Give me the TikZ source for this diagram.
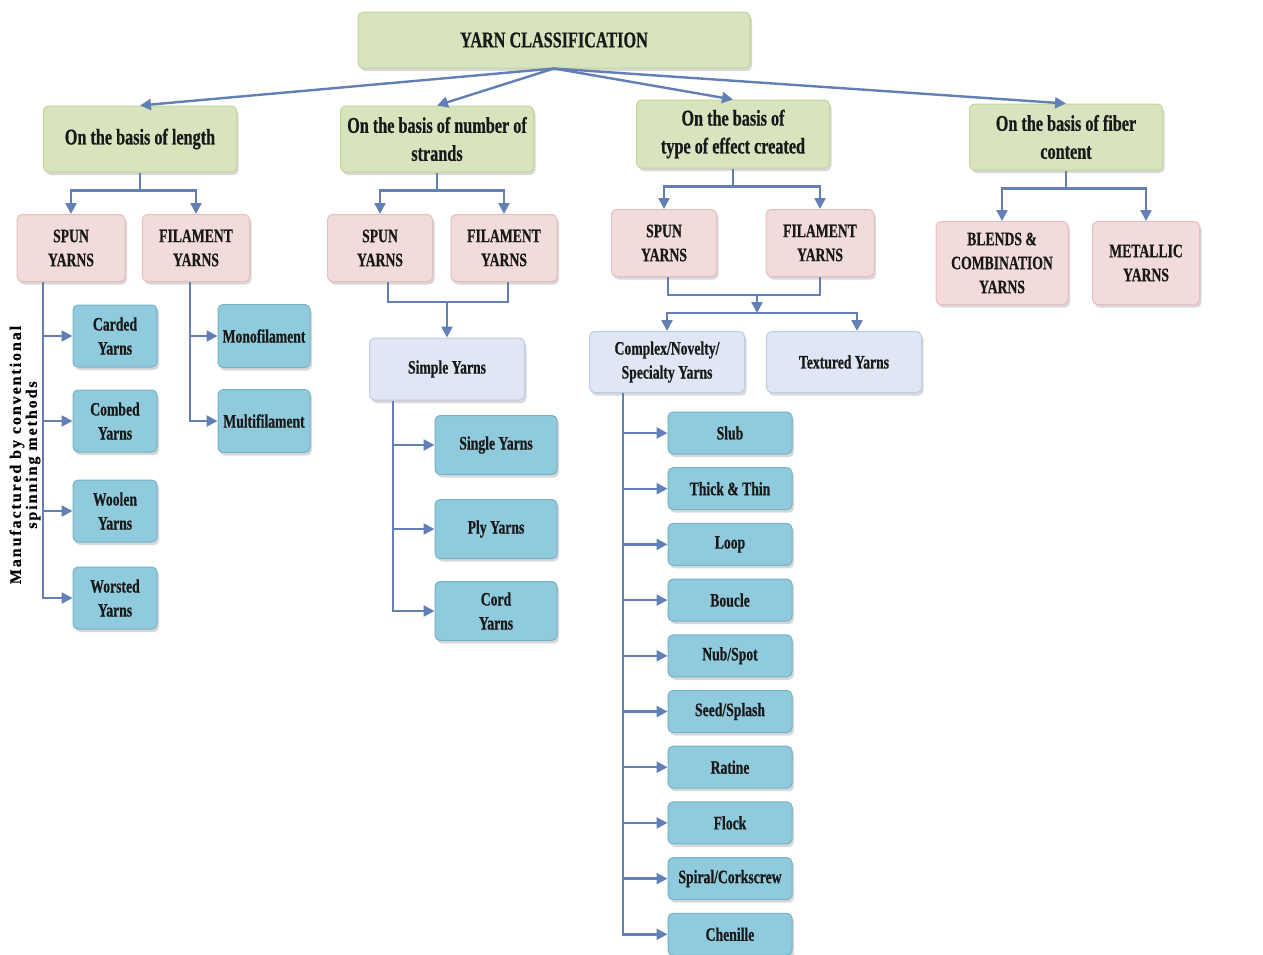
\documentclass[tikz,border=0pt]{standalone}
\usepackage{fontspec}
\setmainfont{Liberation Serif}[FakeStretch=0.72, BoldFeatures={FakeBold=0.6}]
\newfontfamily\sidefont{Liberation Serif}[LetterSpace=12, BoldFeatures={FakeBold=0.5}]
\usetikzlibrary{arrows.meta,shadows}
\definecolor{leafgreen}{RGB}{215,228,189}
\definecolor{leafedge}{RGB}{196,215,155}
\definecolor{rosefill}{RGB}{242,220,219}
\definecolor{roseedge}{RGB}{230,190,189}
\definecolor{lilacfill}{RGB}{222,231,243}
\definecolor{lilacedge}{RGB}{190,206,228}
\definecolor{tealfill}{RGB}{143,203,221}
\definecolor{tealedge}{RGB}{118,178,200}
\definecolor{linkblue}{RGB}{98,128,182}
\begin{document}
\begin{tikzpicture}[x=1pt,y=-1pt,
  box/.style={rounded corners=5pt, line width=1pt, align=center, inner sep=0pt,
    text=black!90, font=\bfseries\fontsize{19}{24}\selectfont,
    drop shadow={shadow xshift=2pt,shadow yshift=-3pt,opacity=.3}},
  headbox/.style={box, fill=leafgreen, draw=leafedge, minimum width=193pt,
    minimum height=66pt, font=\bfseries\fontsize{22.5}{28}\selectfont},
  kindbox/.style={box, fill=rosefill, draw=roseedge, minimum width=107pt, minimum height=67pt},
  groupbox/.style={box, fill=lilacfill, draw=lilacedge, minimum width=155pt, minimum height=62pt},
  leafbox/.style={box, fill=tealfill, draw=tealedge},
  link/.style={draw=linkblue, line width=2.4pt},
  arr/.style={link, -{Triangle[length=11pt,width=11pt]}}]
\useasboundingbox[fill=white] (0,0) rectangle (1263,954);

\node[headbox, minimum width=392pt, minimum height=56pt] (root) at (554,40) {YARN CLASSIFICATION};

\node[headbox] (length) at (140,139) {On the basis of length};
\node[headbox] (strands) at (437,139) {On the basis of number of\\strands};
\node[headbox, minimum height=68pt] (effect) at (733,134) {On the basis of\\type of effect created};
\node[headbox] (fiber) at (1066,137) {On the basis of fiber\\content};

\node[kindbox, minimum width=108pt] (spuna) at (71,248) {SPUN\\YARNS};
\node[kindbox] (filama) at (196,248) {FILAMENT\\YARNS};
\node[kindbox, minimum width=105pt] (spunb) at (380,248) {SPUN\\YARNS};
\node[kindbox, minimum width=106pt] (filamb) at (504,248) {FILAMENT\\YARNS};
\node[kindbox, minimum width=105pt] (spunc) at (664,243) {SPUN\\YARNS};
\node[kindbox, minimum width=108pt] (filamc) at (820,243) {FILAMENT\\YARNS};
\node[kindbox, minimum width=132pt, minimum height=83pt] (blends) at (1002,263) {BLENDS \&\\COMBINATION\\YARNS};
\node[kindbox, minimum height=83pt] (metallic) at (1146,263) {METALLIC\\YARNS};

\node[leafbox, minimum width=84pt, minimum height=62pt] (carded) at (115,336) {Carded\\Yarns};
\node[leafbox, minimum width=84pt, minimum height=62pt] (combed) at (115,421) {Combed\\Yarns};
\node[leafbox, minimum width=84pt, minimum height=62pt] (woolen) at (115,511) {Woolen\\Yarns};
\node[leafbox, minimum width=84pt, minimum height=62pt] (worsted) at (115,598) {Worsted\\Yarns};
\node[leafbox, minimum width=92pt, minimum height=63pt] (mono) at (264,336) {Monofilament};
\node[leafbox, minimum width=92pt, minimum height=63pt] (multi) at (264,421) {Multifilament};

\node[font=\sidefont\bfseries\fontsize{16}{16}\selectfont, rotate=90, align=center] (spinning) at (25,455)
  {Manufactured by conventional\\spinning methods};

\node[groupbox] (simple) at (447,369) {Simple Yarns};
\node[leafbox, minimum width=122pt, minimum height=59pt] (single) at (496,445) {Single Yarns};
\node[leafbox, minimum width=122pt, minimum height=59pt] (ply) at (496,529) {Ply Yarns};
\node[leafbox, minimum width=122pt, minimum height=59pt] (cord) at (496,611) {Cord\\Yarns};

\node[groupbox, minimum height=61pt] (complex) at (667,362) {Complex/Novelty/\\Specialty Yarns};
\node[groupbox, minimum height=61pt] (textured) at (844,362) {Textured Yarns};

\foreach \nm/\txt [count=\i from 0] in {slub/Slub, thick/Thick \& Thin, loop/Loop, boucle/Boucle,
    nub/{Nub/Spot}, seed/{Seed/Splash}, ratine/Ratine, flock/Flock, spiral/{Spiral/Corkscrew}, chenille/Chenille}
  \node[leafbox, minimum width=124pt, minimum height=42pt] (\nm) at (730,433+55.7*\i) {\txt};

\foreach \n in {length,strands,effect,fiber}
  \draw[arr] (root.south) -- (\n.north);

\draw[arr] (length.south) -- ++(0,18) -| (spuna.north);
\draw[arr] (length.south) -- ++(0,18) -| (filama.north);
\draw[arr] (strands.south) -- ++(0,18) -| (spunb.north);
\draw[arr] (strands.south) -- ++(0,18) -| (filamb.north);
\draw[arr] (effect.south) -- ++(0,18) -| (spunc.north);
\draw[arr] (effect.south) -- ++(0,18) -| (filamc.north);
\draw[arr] (fiber.south) -- ++(0,18) -| (blends.north);
\draw[arr] (fiber.south) -- ++(0,18) -| (metallic.north);

\foreach \n in {carded,combed,woolen,worsted}
  \draw[arr] ([xshift=-28pt]spuna.south) |- (\n.west);
\foreach \n in {mono,multi}
  \draw[arr] ([xshift=-6pt]filama.south) |- (\n.west);

\coordinate (sjoin) at (447,302);
\draw[link] ([xshift=8pt]spunb.south) |- (sjoin) -| ([xshift=4pt]filamb.south);
\draw[arr] (sjoin) -- (simple.north);
\foreach \n in {single,ply,cord}
  \draw[arr] ([xshift=-54pt]simple.south) |- (\n.west);

\coordinate (ejoin) at (757,295);
\coordinate (ebus) at (757,313);
\draw[link] ([xshift=4pt]spunc.south) |- (ejoin) -| (filamc.south);
\draw[arr] (ejoin) -- (ebus);
\draw[arr] (ebus) -| (complex.north);
\draw[arr] (ebus) -| ([xshift=13pt]textured.north);

\foreach \n in {slub,thick,loop,boucle,nub,seed,ratine,flock,spiral,chenille}
  \draw[arr] ([xshift=-44pt]complex.south) |- (\n.west);
\end{tikzpicture}
\end{document}
